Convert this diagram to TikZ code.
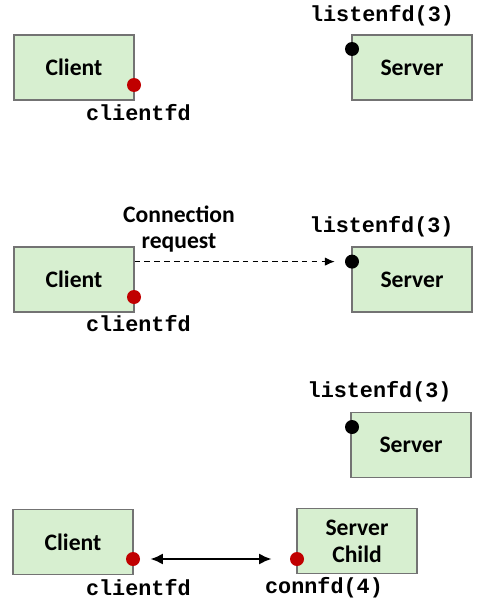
\documentclass[tikz,border=0pt]{standalone}
\usepackage{fontspec}
\setmainfont{Carlito}
\setmonofont{Liberation Mono}
\usepackage{xcolor}
\usepackage{tikz}
\usetikzlibrary{positioning, shapes, arrows.meta}
\definecolor{boxgreen}{HTML}{D7EFD0}
\definecolor{fdred}{HTML}{C00000}
\tikzstyle{arrow} = [thick,->,>=stealth]

\begin{document}
\begin{tikzpicture}[
    host/.style={rectangle, draw=black!55, line width=0.8pt, fill=boxgreen, minimum width=3cm, minimum height=1.625cm, text centered, align=center, font=\fontsize{16.8}{19}\selectfont\bfseries},
    fd/.style={circle, fill=fdred, inner sep=0pt, minimum size=0.35cm},
    listenfd/.style={circle, fill=black, inner sep=0pt, minimum size=0.35cm},
    fdlabel/.style={font=\fontsize{15.5}{19}\selectfont\ttfamily\bfseries, inner sep=0pt},
    note/.style={font=\fontsize{16.8}{19}\selectfont\bfseries, align=center, inner sep=0pt},
    request/.style={dash pattern=on 4pt off 3pt, line width=0.8pt, -{Latex[length=7pt, width=6pt]}, shorten >=0.25cm},
    link/.style={line width=2pt, {Latex[length=9pt, width=8pt]}-{Latex[length=9pt, width=8pt]}}
]
    \useasboundingbox (0, 0) rectangle (12.1, -15.1);

    % Step 1: server listening
    \node[host] (client1) at (1.85, -1.6875) {Client};
    \node[host] (server1) at (10.3, -1.6875) {Server};
    \node[fd] (cfd1) at (3.35, -2.125) {};
    \node[listenfd] (lfd1) at (8.8, -1.225) {};
    \node[fdlabel] (cfdlab1) at (3.46, -2.81) {clientfd};
    \node[fdlabel] (lfdlab1) at (9.55, -0.39) {listenfd(3)};

    % Step 2: client sends connection request
    \node[host] (client2) at (1.85, -6.9875) {Client};
    \node[host] (server2) at (10.3, -6.9875) {Server};
    \node[fd] (cfd2) at (3.35, -7.425) {};
    \node[listenfd] (lfd2) at (8.8, -6.54) {};
    \node[fdlabel] (cfdlab2) at (3.46, -8.09) {clientfd};
    \node[fdlabel] (lfdlab2) at (9.54, -5.66) {listenfd(3)};
    \node[note] (req) at (4.475, -5.725) {Connection\\request};
    \draw[request] (client2.east |- lfd2) -- (lfd2);

    % Step 3: server child handles the connection
    \node[host] (server3) at (10.275, -11.125) {Server};
    \node[listenfd] (lfd3) at (8.8, -10.675) {};
    \node[fdlabel] (lfdlab3) at (9.49, -9.79) {listenfd(3)};
    \node[host] (client3) at (1.825, -13.55) {Client};
    \node[host] (child) at (8.925, -13.525) {Server\\Child};
    \node[fd] (cfd3) at (3.325, -13.975) {};
    \node[fd] (connfd) at (7.425, -13.975) {};
    \node[fdlabel] (cfdlab3) at (3.46, -14.69) {clientfd};
    \node[fdlabel] (connlab) at (8.1, -14.69) {connfd(4)};
    \draw[link, shorten <=0.25cm, shorten >=0.45cm] (cfd3) -- (connfd);

\end{tikzpicture}
\end{document}
